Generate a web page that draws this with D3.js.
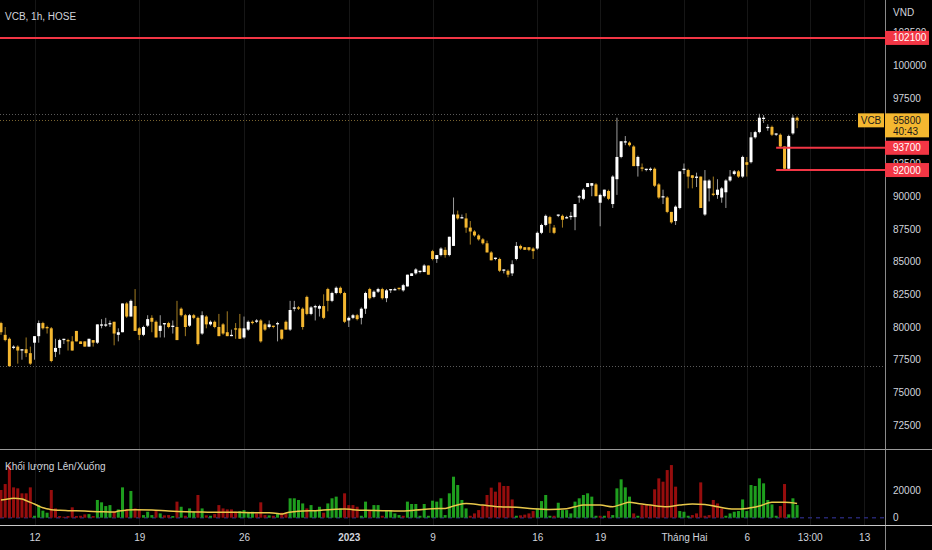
<!DOCTYPE html>
<html><head><meta charset="utf-8">
<script src="https://cdn.jsdelivr.net/npm/d3@7"></script>
<style>html,body{margin:0;padding:0;background:#000;overflow:hidden}svg{display:block}text{font-family:"Liberation Sans",Arial,sans-serif}</style>
</head><body><svg id="c" width="932" height="550"></svg>
<script>
// ---- data ----
const opens = [
80300,79400,79100,78400,78500,78200,78300,78000,78800,79300,
80300,80000,79900,78100,78400,79000,79000,78900,79700,78900,
78900,78500,79000,78800,80100,80100,80200,80400,79400,79600,
81800,80800,81600,79900,79400,80100,80700,80400,79700,80200,
80300,80000,80000,81400,80900,80100,80900,80700,79500,80800,
80200,80400,80000,80200,79600,79300,79900,79900,79200,79800,
80400,80400,80500,80200,80000,80100,80200,79800,80400,79800,
81400,81500,81400,82300,81000,81500,81400,81600,82900,82000,
82600,83000,82600,80500,80700,80900,80700,81400,82900,82300,
82700,82900,82200,82800,82800,83000,82800,83100,83900,84100,
84200,84200,84700,85800,85200,85500,85900,85500,86200,88600,
88300,88300,87600,87300,87000,86700,86400,85700,85200,85200,
84300,84300,84100,85200,86200,86100,86100,86000,86000,87200,
87800,88400,87600,88500,88500,88300,88400,88400,89900,89800,
90700,90800,90900,89500,90000,90400,89400,91300,93000,94100,
94100,93800,92300,92200,92000,92000,92100,90900,89900,89900,
88800,88100,89100,92000,92000,91600,91400,91500,88600,90600,
90200,90100,89900,90300,91200,91700,91900,91500,92600,92600,
94500,94900,95900,95200,95300,94700,94700,93800,92100,94800,
96000];
const highs = [
80400,80000,79200,78600,78600,78300,79200,78500,79300,80500,
80400,80100,80000,79100,79100,79100,79100,79300,79700,78900,
78900,79100,79000,80200,80600,80700,80500,80400,79900,81800,
81900,82100,82900,80000,80100,80900,80900,80500,80900,80300,
80400,80500,82000,81500,81000,81000,81000,80800,81200,80900,
80500,80500,81000,80300,81200,79800,80300,81000,80800,80500,
80500,80600,80600,80300,80500,80100,80400,79800,80500,82000,
82000,81600,81500,82400,81600,81700,81700,82500,83000,82700,
83100,83100,82700,80800,81000,81000,81500,82700,83000,82800,
83000,83000,82900,82900,83000,83000,83300,84000,84100,84500,
84300,84800,84700,85900,85500,86100,86100,86900,89900,88900,
88600,88700,88100,87400,87100,86800,86600,85800,85300,85300,
84400,84400,85100,86500,86300,86100,86100,86100,87300,87900,
88600,88500,87800,88600,88600,88500,88800,89400,90100,90600,
91000,91000,91000,90200,90500,90500,91600,96000,94200,94600,
94200,93900,93100,92500,92100,92200,92200,91000,90500,90000,
88800,89300,91900,92500,92100,91600,91800,91500,92000,91300,
91500,91300,90700,91300,92000,92000,92000,93100,93000,94900,
95000,96300,96200,95500,95400,94800,94800,93800,94700,96200,
96100];
const lows = [
79400,78900,77000,78300,77200,77500,77700,77100,77500,78800,
79800,79500,77300,77700,77900,78700,78200,78200,78900,78700,
78500,78500,78500,78700,79900,80000,80000,78600,78900,79600,
80700,80800,79700,79000,79300,80000,79600,79200,79200,79200,
79900,79500,79000,80800,79300,80000,80600,78600,79400,79900,
80100,79900,79300,79400,79300,79300,79100,79100,79100,79700,
80200,80300,78800,79700,79900,79900,78900,79000,79800,79700,
81200,81300,79800,80900,80900,80500,80800,80600,81200,81900,
82500,82500,80300,80000,80600,80500,80200,81000,82100,82200,
82600,82100,81900,82600,82800,82800,82700,83100,83900,84000,
84100,84200,84000,85100,84900,85400,85300,85400,86200,88200,
88300,87200,86300,86900,86600,86300,85700,85100,85100,84200,
84100,83800,83900,85100,85900,85900,85800,85200,85900,87100,
87700,87200,87100,88400,87600,88300,88200,87400,89500,89700,
90700,90000,90000,87700,89900,89700,89100,90100,92900,93900,
93800,92300,91500,91900,91900,91900,90700,89800,89400,88700,
87900,87800,89000,91700,90600,90600,90700,89100,88500,89600,
90000,89800,89500,89100,91100,91600,91400,91400,91500,92500,
94400,94800,95600,95000,94600,94600,93700,92000,92000,94700,
95200];
const closes = [
79600,79000,77000,78500,78200,78300,78000,77200,79300,80300,
79900,79900,77400,78400,79000,79100,78900,78200,78900,78700,
78500,79100,78800,80200,80200,80200,80300,79500,79600,81800,
80800,82000,79700,79400,80000,80600,80400,79200,80100,80300,
80000,80100,79000,80900,80000,80900,80700,78700,80900,80200,
80400,80000,79300,79500,79300,79400,79800,79100,79900,80400,
80300,80500,78900,79800,80200,80000,80300,79100,79800,81300,
81500,81400,80000,81000,81500,81600,81600,80700,82000,82600,
83000,82600,80400,80700,80900,80600,81400,82600,82200,82700,
82900,82200,82800,82900,82900,82900,83200,84000,84100,84400,
84300,84700,84000,85200,85500,86000,85500,86900,88600,88300,
88400,87600,87300,87000,86700,86400,85700,85100,85300,84300,
84400,84000,84800,86200,86000,85900,85900,85800,87200,87800,
88500,87900,87200,88600,88200,88400,88500,89400,90000,90500,
91000,91000,90000,90100,90500,89800,91500,93000,94200,94200,
93900,92300,93000,92100,92100,92100,90800,89900,90000,88800,
88000,89200,91900,92100,91500,91400,91500,89100,91200,91200,
90100,90500,90600,91200,91500,91900,91500,93000,92400,94500,
94900,96000,96000,95300,94700,94800,93800,92100,94600,96000,
95800];
const volumes = [
20000,24300,38000,21900,21200,17600,17600,21900,1400,9100,
5100,3600,20000,6700,1200,700,1200,7500,1200,1400,
2400,2600,1200,12800,11100,8400,9100,4300,6000,21900,
6000,19300,6700,6000,1900,4300,1900,4800,3100,1700,
1900,1200,11600,7900,1400,6700,4300,16400,6700,1700,
1400,2600,9100,6700,6000,6000,4300,4800,5500,4300,
4300,3100,11100,1900,1700,1400,3100,3600,3100,14000,
14000,12800,10300,6700,9100,5500,7900,3600,10300,14000,
15200,6700,17600,9100,9100,7900,1400,11600,5500,9100,
9100,1400,5500,5500,3100,1900,1400,11600,9900,9900,
1400,9900,1400,12300,11600,14000,1900,17600,29600,23600,
12800,6700,1400,3100,5500,9100,16400,21700,18800,25500,
22900,22900,13200,1400,1700,2200,3100,4800,6700,12000,
16400,1400,1400,10800,5500,5500,3100,11600,14000,16400,
17600,15200,1400,1400,1400,4800,1900,21200,27700,21900,
15200,3100,1400,9100,9100,9100,20500,28400,26000,34400,
38000,22400,4800,4300,1400,1900,3100,25500,1400,1900,
12800,10300,6700,1400,3100,4300,4800,13200,4800,23600,
22900,28400,24800,12800,9600,1400,8400,24300,2400,14000,
9100];
const volUp = [
0,0,0,0,0,0,0,0,1,1, 1,1,0,0,0,0,0,0,0,0,
0,1,0,1,1,1,1,0,1,1, 0,1,0,0,1,1,1,0,1,0,
0,1,0,1,0,1,1,0,1,0, 1,0,0,0,0,0,0,1,1,1,
1,0,0,0,1,0,1,0,0,1, 1,1,1,0,1,1,1,0,1,1,
1,1,0,0,0,0,1,1,0,1, 1,0,1,1,1,1,0,1,1,1,
1,1,1,1,1,1,1,1,1,1, 1,1,0,0,0,0,0,0,0,0,
0,0,0,1,0,0,0,0,1,1, 1,1,0,1,1,1,1,1,1,1,
1,1,1,0,1,0,1,1,1,1, 1,0,1,0,0,0,0,0,0,0,
0,0,1,1,1,0,0,0,0,0, 0,0,0,1,1,1,1,1,1,1,
1,1,1,1,1,1,0,0,1,1, 1];
// volume moving-average line at these bar positions
const maIdx  = [0,1,3,5,6,7,8,9,10,11,12,14,16,20,24,27,28,30,32,36,40,44,48,52,56,60,64,66,67,68,70,72,75,79,82,84,87,91,95,99,103,106,108,110,111,115,119,123,127,131,135,137,139,143,146,148,150,152,155,159,162,165,168,171,175,178,181,184,187,190];
const maVals = [12800,13200,14000,13500,12300,11100,9900,8400,7200,6500,5800,5300,5100,4800,4300,4100,4800,5500,5800,5500,4800,4300,4100,3900,3900,3600,3600,3100,2600,3400,4300,4800,5100,6000,6300,5800,5300,5100,4800,5500,6500,6700,8400,9900,10300,9100,7900,7500,6500,6000,6500,7900,9100,9100,7900,9600,11100,10300,9100,7900,9100,9900,9600,7900,6300,6700,8400,11100,11100,10300];
const tickIdx = [8,33,58,83,103,128,143,163,178,193,206];
const tickLabels = ["12","19","26","2023","9","16","19","Tháng Hai","6","13:00","13"];
const priceTicks = [72500,75000,77500,80000,82500,85000,87500,90000,92500,97500,100000,102500];
const volTicks = [0,20000];
const levelLines = [102100,93700,92000];
const levelStart = [null,185,185];
const symbol = "VCB", countdown = "40:43";

// ---- layout ----
const W=932,H=550,AX=885,PB=449.5,VB=525;
const svg=d3.select("#c");
svg.append("rect").attr("width",W).attr("height",H).attr("fill","#000");
const n=opens.length;
const x=d3.scaleLinear().domain([0,1]).range([1,5.19]);
const y=d3.scaleLinear().domain([80000,100000]).range([327,65.4]);
const yv=d3.scaleLinear().domain([0,20000]).range([517.7,490]);
const TXT="#d1d4dc", FS=10;

// vertical grid
svg.append("g").selectAll("line").data(tickIdx).join("line")
  .attr("x1",d=>Math.round(x(d))+0.5).attr("x2",d=>Math.round(x(d))+0.5)
  .attr("y1",0).attr("y2",VB).attr("stroke","#161616");

// dotted high / low / current lines
const hi=d3.max(highs), lo=d3.min(lows), last=closes[n-1];
[[hi,"#5a5a5a"],[lo,"#5a5a5a"],[last,"#7a6430"]].forEach(([v,c])=>{
  svg.append("line").attr("x1",0).attr("x2",AX).attr("y1",Math.round(y(v))+0.5).attr("y2",Math.round(y(v))+0.5)
    .attr("stroke",c).attr("stroke-dasharray","1,2");
});

// candles
const cg=svg.append("g");
const idx=d3.range(n);
cg.selectAll("rect.w").data(idx).join("rect").attr("class","w")
  .attr("x",i=>x(i)-0.5).attr("width",1)
  .attr("y",i=>y(highs[i])).attr("height",i=>Math.max(1,y(lows[i])-y(highs[i])))
  .attr("fill",i=>closes[i]>=opens[i]?"#9a9a9a":"#a27c22");
cg.selectAll("rect.b").data(idx).join("rect").attr("class","b")
  .attr("x",i=>x(i)-1.5).attr("width",3)
  .attr("y",i=>y(Math.max(opens[i],closes[i])))
  .attr("height",i=>Math.max(1,Math.abs(y(opens[i])-y(closes[i]))))
  .attr("fill",i=>closes[i]>=opens[i]?"#ffffff":"#f4b730");

// level lines
levelLines.forEach((v,k)=>{
  const x0 = levelStart[k]==null?0:x(levelStart[k]);
  svg.append("line").attr("x1",x0).attr("x2",AX).attr("y1",y(v)).attr("y2",y(v))
    .attr("stroke","#f23645").attr("stroke-width",2);
});

// volume
svg.append("line").attr("x1",0).attr("x2",AX).attr("y1",yv(0)).attr("y2",yv(0))
  .attr("stroke","#25256e").attr("stroke-width",1.5).attr("stroke-dasharray","4,4");
svg.append("g").selectAll("rect").data(idx).join("rect")
  .attr("x",i=>x(i)-1.5).attr("width",3)
  .attr("y",i=>yv(volumes[i])).attr("height",i=>yv(0)-yv(volumes[i]))
  .attr("fill",i=>volUp[i]?"#1e9e1e":"#960d0d");
svg.append("path").datum(maIdx.map((d,k)=>[d,maVals[k]])).attr("fill","none").attr("stroke","#e8c74a").attr("stroke-width",1.5)
  .attr("d",d3.line().curve(d3.curveMonotoneX).x(d=>x(d[0])).y(d=>yv(d[1])));

// pane borders
svg.append("line").attr("x1",AX+0.5).attr("x2",AX+0.5).attr("y1",0).attr("y2",H).attr("stroke","#8a8a8a");
svg.append("line").attr("x1",0).attr("x2",W).attr("y1",PB).attr("y2",PB).attr("stroke","#9a9a9a");
svg.append("line").attr("x1",0).attr("x2",W).attr("y1",VB+0.5).attr("y2",VB+0.5).attr("stroke","#c8c8c8");

// axes
function styleAxis(g,fs){
  g.select(".domain").remove();
  g.selectAll("text").attr("fill",TXT).style("font-size",fs+"px");
}
svg.append("g").attr("transform",`translate(${AX},0)`)
  .call(d3.axisRight(y).tickValues(priceTicks).tickFormat(d3.format("d")).tickSize(0).tickPadding(8))
  .call(g=>styleAxis(g,FS));
svg.append("g").attr("transform",`translate(${AX},0)`)
  .call(d3.axisRight(yv).tickValues(volTicks).tickFormat(d3.format("d")).tickSize(0).tickPadding(8))
  .call(g=>styleAxis(g,FS));
const xa=svg.append("g").attr("transform",`translate(0,${VB})`)
  .call(d3.axisBottom(x).tickValues(tickIdx).tickFormat((d,i)=>tickLabels[i]).tickSize(0).tickPadding(9))
  .call(g=>styleAxis(g,FS));
xa.selectAll("text").style("font-weight",(d,i)=>tickLabels[i]==="2023"?"bold":"normal");

// price boxes
function box(v,label,fill,txt){
  const cy=y(v);
  svg.append("rect").attr("x",AX).attr("y",cy-7).attr("width",44).attr("height",14).attr("fill",fill);
  svg.append("text").attr("x",AX+8).attr("y",cy).attr("dy","0.35em").attr("fill",txt).style("font-size",FS+"px").text(label);
}
levelLines.forEach(v=>box(v,d3.format("d")(v),"#f23645","#ffffff"));
{
  const cy=y(last);
  svg.append("rect").attr("x",AX).attr("y",cy-7).attr("width",44).attr("height",24).attr("fill","#f4b730");
  svg.append("text").attr("x",AX+8).attr("y",cy).attr("dy","0.35em").attr("fill","#1a1a1a").style("font-size",FS+"px").text(d3.format("d")(last));
  svg.append("text").attr("x",AX+8).attr("y",cy+11).attr("dy","0.35em").attr("fill","#1a1a1a").style("font-size",FS+"px").text(countdown);
  svg.append("rect").attr("x",AX-27).attr("y",cy-7).attr("width",26).attr("height",14).attr("fill","#f4b730");
  svg.append("text").attr("x",AX-14).attr("y",cy).attr("dy","0.35em").attr("text-anchor","middle").attr("fill","#1a1a1a").style("font-size",FS+"px").text(symbol);
}

// titles
svg.append("text").attr("x",5).attr("y",20).attr("fill",TXT).style("font-size","10px").text("VCB, 1h, HOSE");
svg.append("text").attr("x",5).attr("y",470).attr("fill",TXT).style("font-size","10px").text("Khối lượng Lên/Xuống");
svg.append("text").attr("x",893).attr("y",16).attr("fill",TXT).style("font-size",FS+"px").text("VND");
</script></body></html>
